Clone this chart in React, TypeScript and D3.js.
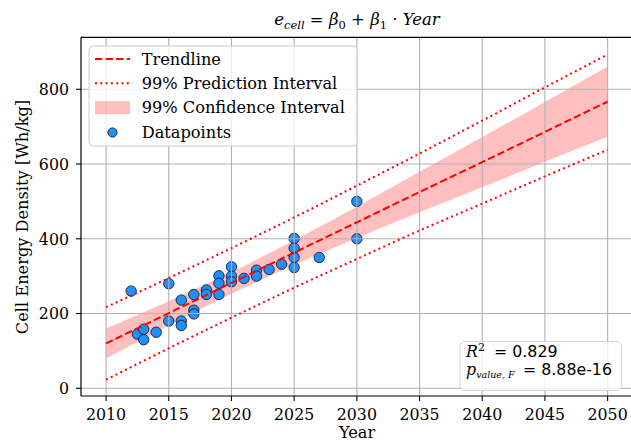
import React from 'react';
import * as d3 from 'd3';

// Scatter data (year, cell energy density in Wh/kg)
const pointYears = [
  2012, 2012.5, 2013, 2013, 2014, 2015, 2015, 2016, 2016, 2016,
  2017, 2017, 2017, 2018, 2018, 2019, 2019, 2019, 2020, 2020, 2020,
  2021, 2022, 2022, 2023, 2024, 2025, 2025, 2025, 2025, 2027, 2030, 2030,
];
const pointValues = [
  260, 145, 158, 130, 150, 280, 180, 236, 180, 168,
  251, 209, 199, 263, 251, 301, 281, 251, 325, 300, 285,
  294, 316, 300, 318, 332, 401, 375, 350, 323, 350, 500, 400,
];

// Regression trendline and intervals, every 5 years
const bandYears = [2010, 2015, 2020, 2025, 2030, 2035, 2040, 2045, 2050];
const trendValues = [120, 201, 282, 363, 444, 525, 605, 686, 767];
const ciLower = [80, 169, 253, 330, 402, 471, 538, 606, 673];
const ciUpper = [160, 233, 311, 396, 486, 579, 672, 766, 861];
const piLower = [23, 107, 189, 269, 346, 422, 494, 567, 638];
const piUpper = [217, 295, 375, 457, 542, 628, 716, 805, 893];

const xTicks = [2010, 2015, 2020, 2025, 2030, 2035, 2040, 2045, 2050];
const yTicks = [0, 200, 400, 600, 800];

const legendLabels = ['Trendline', '99% Prediction Interval', '99% Confidence Interval', 'Datapoints'];

const W = 631;
const H = 441;
const SERIF = "'DejaVu Serif', serif";
const SANS = "'DejaVu Sans', sans-serif";

export default function App() {
  const x = d3.scaleLinear().domain([2008, 2052]).range([81, 632.7]);
  const y = d3.scaleLinear().domain([-20.6, 939]).range([396, 37.3]);

  const idx = bandYears.map((_, i) => i);
  const area = d3
    .area<number>()
    .x((i) => x(bandYears[i]))
    .y0((i) => y(ciLower[i]))
    .y1((i) => y(ciUpper[i]))
    .curve(d3.curveMonotoneX);
  const lineOf = (vals: number[]) =>
    d3
      .line<number>()
      .x((i) => x(bandYears[i]))
      .y((i) => y(vals[i]))
      .curve(d3.curveMonotoneX)(idx) as string;

  const left = 81;
  const right = 632.7;
  const top = 37.3;
  const bottom = 396;
  const red = '#ff0000';
  const fs = 16.2;

  const legendRows = [59, 83.3, 107.7, 132.5];

  return (
    <svg
      width={W}
      height={H}
      style={{ position: 'fixed', left: 0, top: 0, background: '#fff' }}
    >
      <rect x={0} y={0} width={W} height={H} fill="#fff" />
      {/* confidence band */}
      <path d={area(idx) as string} fill={red} fillOpacity={0.25} stroke="none" />
      {/* datapoints */}
      {pointYears.map((yr, i) => (
        <circle
          key={i}
          cx={x(yr)}
          cy={y(pointValues[i])}
          r={5.2}
          fill="#1e90ff"
          stroke="#1a1a2a"
          strokeWidth={0.9}
        />
      ))}
      {/* grid */}
      {xTicks.map((t) => (
        <line key={'gx' + t} x1={x(t)} x2={x(t)} y1={top} y2={bottom} stroke="#b0b0b0" strokeWidth={1.1} />
      ))}
      {yTicks.map((t) => (
        <line key={'gy' + t} x1={left} x2={right} y1={y(t)} y2={y(t)} stroke="#b0b0b0" strokeWidth={1.1} />
      ))}
      {/* prediction interval */}
      <path d={lineOf(piUpper)} fill="none" stroke={red} strokeWidth={2} strokeDasharray="2,3.3" />
      <path d={lineOf(piLower)} fill="none" stroke={red} strokeWidth={2} strokeDasharray="2,3.3" />
      {/* trendline */}
      <path d={lineOf(trendValues)} fill="none" stroke={red} strokeWidth={2} strokeDasharray="7.4,3.2" />

      {/* spines */}
      <line x1={left} x2={left} y1={top} y2={bottom} stroke="#000" strokeWidth={1.2} />
      <line x1={left} x2={right} y1={bottom} y2={bottom} stroke="#000" strokeWidth={1.2} />
      <line x1={left} x2={right} y1={top} y2={top} stroke="#000" strokeWidth={1.2} />
      <line x1={right} x2={right} y1={top} y2={bottom} stroke="#000" strokeWidth={1.2} />

      {/* x ticks */}
      {xTicks.map((t) => (
        <g key={'xt' + t}>
          <line x1={x(t)} x2={x(t)} y1={bottom} y2={bottom + 5} stroke="#000" strokeWidth={1.1} />
          <text x={x(t)} y={420} textAnchor="middle" fontFamily={SERIF} fontSize={15.8} fill="#000">
            {t}
          </text>
        </g>
      ))}
      {/* y ticks */}
      {yTicks.map((t) => (
        <g key={'yt' + t}>
          <line x1={left - 5} x2={left} y1={y(t)} y2={y(t)} stroke="#000" strokeWidth={1.1} />
          <text x={69} y={y(t) + 5.8} textAnchor="end" fontFamily={SERIF} fontSize={15.8} fill="#000">
            {t}
          </text>
        </g>
      ))}

      {/* axis labels */}
      <text x={357} y={437.5} textAnchor="middle" fontFamily={SERIF} fontSize={fs} fill="#000">
        Year
      </text>
      <text
        transform="translate(28,217) rotate(-90)"
        textAnchor="middle"
        fontFamily={SERIF}
        fontSize={fs}
        fill="#000"
      >
        Cell Energy Density [Wh/kg]
      </text>

      {/* title */}
      <text x={357} y={25} textAnchor="middle" fontFamily={SERIF} fontSize={16.5} fill="#000">
        <tspan fontStyle="italic">e</tspan>
        <tspan fontStyle="italic" fontSize={11.5} dy={3.5}>cell</tspan>
        <tspan dy={-3.5}>{' = '}</tspan>
        <tspan fontStyle="italic">β</tspan>
        <tspan fontSize={11.5} dy={3.5}>0</tspan>
        <tspan dy={-3.5}>{' + '}</tspan>
        <tspan fontStyle="italic">β</tspan>
        <tspan fontSize={11.5} dy={3.5}>1</tspan>
        <tspan dy={-3.5}>{' · '}</tspan>
        <tspan fontStyle="italic">Year</tspan>
      </text>

      {/* legend */}
      <rect x={89} y={46} width={268} height={100} rx={4} fill="#fff" fillOpacity={0.8} stroke="#cccccc" strokeWidth={1} />
      <line x1={95} x2={130} y1={legendRows[0]} y2={legendRows[0]} stroke={red} strokeWidth={2} strokeDasharray="7.4,3.2" />
      <line x1={95} x2={130} y1={legendRows[1]} y2={legendRows[1]} stroke={red} strokeWidth={2} strokeDasharray="2,3.3" />
      <rect x={95} y={legendRows[2] - 6.5} width={35} height={13} fill={red} fillOpacity={0.25} />
      <circle cx={112.5} cy={legendRows[3]} r={4.6} fill="#1e90ff" stroke="#1a1a2a" strokeWidth={0.9} />
      {legendLabels.map((lab, i) => (
        <text key={lab} x={141.7} y={legendRows[i] + 5.6} fontFamily={SERIF} fontSize={fs} fill="#000">
          {lab}
        </text>
      ))}

      {/* statistics box */}
      <rect x={460} y={341.5} width={161.5} height={49} rx={5} fill="#fff" fillOpacity={0.8} stroke="#d5d5d5" strokeWidth={1} />
      <text x={466} y={357.3} fontFamily={SERIF} fontSize={15.8} fill="#000">
        <tspan fontStyle="italic">R</tspan>
        <tspan fontSize={11} dy={-6.5}>2</tspan>
        <tspan x={494} dy={6.5} fontFamily={SANS}>= 0.829</tspan>
      </text>
      <text x={466} y={375.3} fontFamily={SERIF} fontSize={15.8} fill="#000">
        <tspan fontStyle="italic">p</tspan>
        <tspan fontStyle="italic" fontSize={9.5} dy={3}>value, F</tspan>
        <tspan x={523} dy={-3} fontFamily={SANS}>= 8.88e-16</tspan>
      </text>
    </svg>
  );
}
